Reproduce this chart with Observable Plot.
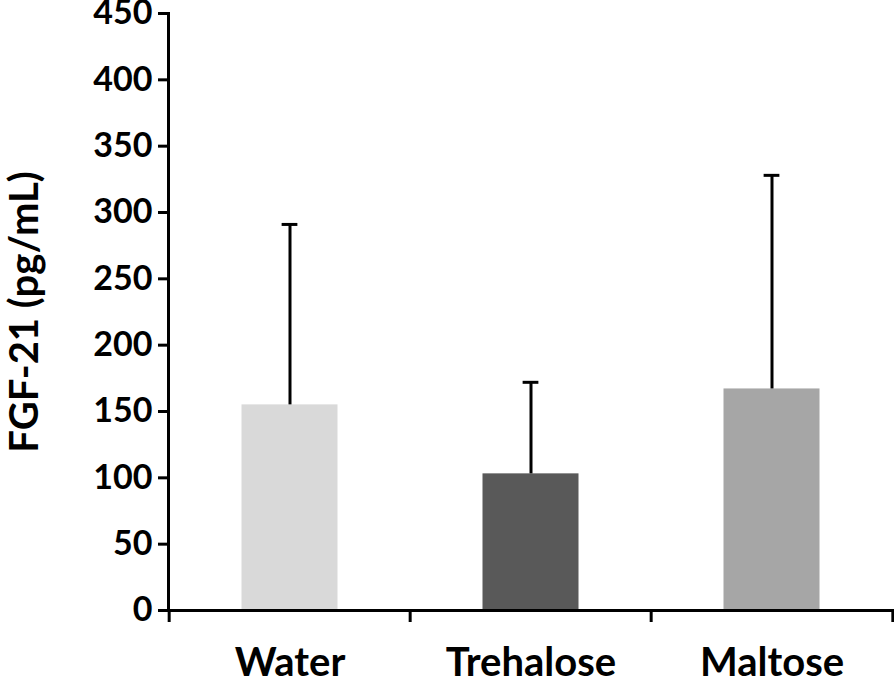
<!DOCTYPE html>
<html>
<head>
<meta charset="utf-8">
<script src="https://cdn.jsdelivr.net/npm/d3@7"></script>
<script src="https://cdn.jsdelivr.net/npm/@observablehq/plot@0.6"></script>
<style>
  html, body { margin: 0; padding: 0; background: #fff; }
  #chart svg { display: block; }
</style>
</head>
<body>
<div id="chart"></div>
<script>
const categories = ["Water", "Trehalose", "Maltose"];
const means = [155, 103, 167];
const errors = [136, 69, 161];
const colors = ["#d9d9d9", "#595959", "#a6a6a6"];
const yTicks = [0, 50, 100, 150, 200, 250, 300, 350, 400, 450];
const yLabel = "FGF-21 (pg/mL)";

const data = categories.map((c, i) => ({cat: c, mean: means[i], upper: means[i] + errors[i], color: colors[i]}));

const W = 894, H = 681;
const mL = 168, mR = 1, mT = 13, mB = 71;
const bw = (W - mL - mR) / categories.length;
const font = "Lato, 'Open Sans', sans-serif";

const chart = Plot.plot({
  width: W,
  height: H,
  marginLeft: mL,
  marginRight: mR,
  marginTop: mT,
  marginBottom: mB,
  style: {fontFamily: font, fontWeight: 700, color: "#000", background: "#fff", overflow: "visible"},
  x: {domain: categories, padding: 0, align: 0.5},
  y: {domain: [0, 450], ticks: yTicks},
  marks: [
    Plot.barY(data, {x: "cat", y: "mean", fill: "color", insetLeft: bw * 0.3, insetRight: bw * 0.3}),
    Plot.ruleX(data, {x: "cat", y1: "mean", y2: "upper", stroke: "#000", strokeWidth: 3}),
    Plot.tickY(data, {x: "cat", y: "upper", stroke: "#000", strokeWidth: 3, insetLeft: bw * 0.466, insetRight: bw * 0.466}),
    Plot.axisY(yTicks, {tickSize: 10, tickPadding: 6, strokeWidth: 3, fontSize: 34, fontWeight: 700, label: null, fill: "#000"}),
    Plot.axisX({tickSize: 12, strokeWidth: 3, text: null, dx: -bw / 2, label: null}),
    Plot.axisX([categories[categories.length - 1]], {tickSize: 12, strokeWidth: 3, text: null, dx: bw / 2, label: null}),
    Plot.axisX({tickSize: 0, tickPadding: 37, fontSize: 40, fontWeight: 700, label: null, fill: "#000"}),
    Plot.frame({anchor: "left", stroke: "#000", strokeWidth: 3}),
    Plot.frame({anchor: "bottom", stroke: "#000", strokeWidth: 3}),
    Plot.text([yLabel], {frameAnchor: "left", textAnchor: "middle", text: d => d, rotate: -90, dx: -143, fontSize: 40, fontWeight: 700, fill: "#000"})
  ]
});

document.getElementById("chart").appendChild(chart);
</script>
</body>
</html>
